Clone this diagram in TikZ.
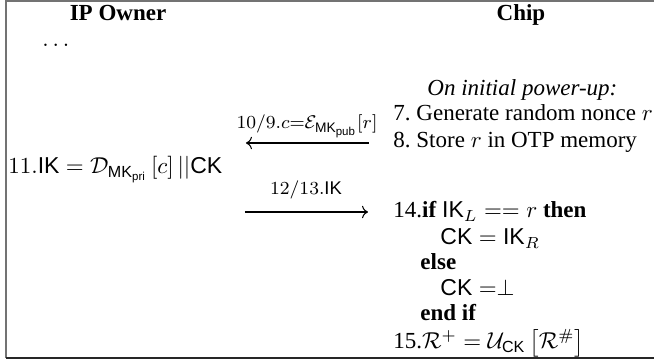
\documentclass[tikz,border=0pt]{standalone}
\usepackage{amsmath}
\usepackage[no-math]{fontspec}
\setmainfont{Liberation Serif}
\setsansfont{Liberation Sans}
\usetikzlibrary{arrows.meta}
\newcommand\sk[1]{\text{\sffamily\upshape #1}}
\begin{document}
\begin{tikzpicture}[x=0.4348pt,y=-0.4348pt,
  txt/.style={inner sep=0pt, anchor=base west},
  ctr/.style={inner sep=0pt, anchor=base},
  lbl/.style={inner sep=0pt, anchor=base, font=\footnotesize},
  msg/.style={-{Computer Modern Rightarrow}, line width=0.45pt},
  frame/.style={draw=black!55, line width=0.7pt}]
\useasboundingbox (0,0) rectangle (654,360);
% frame
\coordinate (fbl) at (6,358);
\coordinate (ftl) at (6,1);
\coordinate (ftr) at (654,1);
\coordinate (fbr) at (654,358);
\draw[frame] (fbl) -- (ftl) -- (ftr);
\draw[draw=black!85, line width=0.9pt] (fbl) -- (fbr);
% headers
\node[ctr] (own) at (118,21) {\textbf{IP Owner}};
\node[ctr] (chip) at (521,21) {\textbf{Chip}};
\node[txt] (dots) at (42,47) {$\ldots$};
% chip steps
\node[txt] (init) at (427,96) {\textit{On initial power-up:}};
\node[txt] (s7) at (393,121) {7.\ Generate random nonce $r$};
\node[txt] (s8) at (393,148) {8.\ Store $r$ in OTP memory};
\node[txt] (s11) at (8,174) {$11.\sk{IK} = \mathcal{D}_{\sk{MK}_{\sk{pri}}}\left[c\right]||\sk{CK}$};
\node[txt] (s14) at (393,218) {14.\textbf{if} $\sk{IK}_L == r$ \textbf{then}};
\node[txt] (s14a) at (440,245) {$\sk{CK} = \sk{IK}_R$};
\node[txt] (s14b) at (420,270) {\textbf{else}};
\node[txt] (s14c) at (440,296) {$\sk{CK} =\perp$};
\node[txt] (s14d) at (420,321) {\textbf{end if}};
\node[txt] (s15) at (393,349) {15.$\mathcal{R}^{+} = \mathcal{U}_{\sk{CK}}\left[\mathcal{R}^{\#}\right]$};
% messages
\coordinate (m1a) at (369,143);
\coordinate (m1b) at (246,143);
\draw[msg] (m1a) -- (m1b);
\node[lbl] (m1l) at (307,129) {$10/9.c{=}\mathcal{E}_{\sk{MK}_{\sk{pub}}}[r]$};
\coordinate (m2a) at (245,212);
\coordinate (m2b) at (368,212);
\draw[msg] (m2a) -- (m2b);
\node[lbl] (m2l) at (306,195) {$12/13.\sk{IK}$};
\end{tikzpicture}
\end{document}
